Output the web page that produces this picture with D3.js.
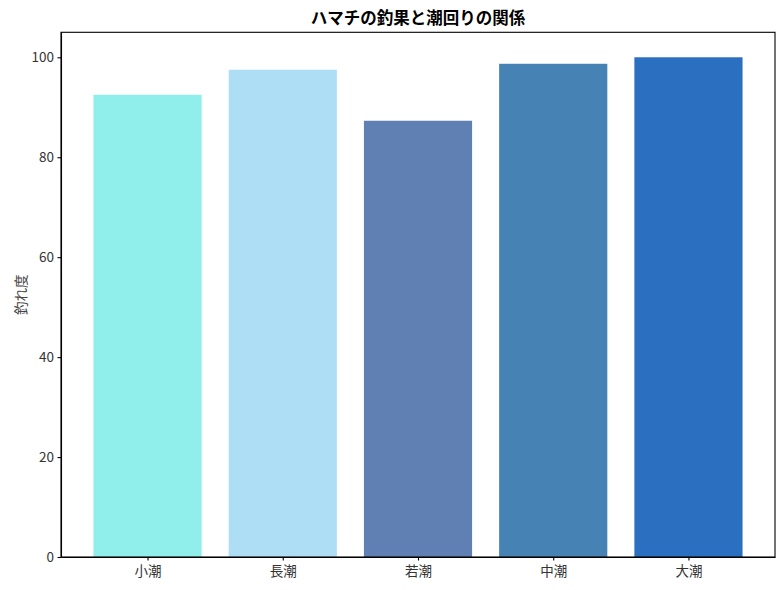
<!DOCTYPE html>
<html lang="ja">
<head>
<meta charset="utf-8">
<title>ハマチの釣果と潮回りの関係</title>
<script src="https://d3js.org/d3.v7.min.js"></script>
<style>
  body { margin: 0; background: #fff; }
  text { font-family: "Noto Sans CJK JP", "Noto Sans", sans-serif; }
  .axis text { font-size: 13.5px; fill: #333; }
  .axis path, .axis line { stroke: #000; stroke-width: 1.1; }
</style>
</head>
<body>
<svg id="chart" width="784" height="590"></svg>
<script>
// data
var tides = ["小潮", "長潮", "若潮", "中潮", "大潮"];
var scores = [92.5, 97.5, 87.3, 98.7, 100];
var barColors = ["#90EEEB", "#AEDEF5", "#607FB3", "#4682B4", "#2B6FC1"];
var yTicks = [0, 20, 40, 60, 80, 100];

var svg = d3.select("#chart");
var margin = {top: 32.3, right: 9, bottom: 33, left: 61};
var w = 784 - margin.left - margin.right;
var h = 590 - margin.top - margin.bottom;

var g = svg.append("g")
  .attr("transform", "translate(" + margin.left + "," + margin.top + ")");

// matplotlib-like band: bar width 0.8, 5% margins
var xScale = d3.scaleLinear()
  .domain([-0.64, tides.length - 1 + 0.64])
  .range([0, w]);

var yScale = d3.scaleLinear()
  .domain([0, 105])
  .range([h, 0]);

g.selectAll("rect.bar")
  .data(scores)
  .enter()
  .append("rect")
  .attr("class", "bar")
  .attr("x", function(d, i) { return xScale(i - 0.4); })
  .attr("width", xScale(0.8) - xScale(0))
  .attr("y", function(d) { return yScale(d); })
  .attr("height", function(d) { return h - yScale(d); })
  .attr("fill", function(d, i) { return barColors[i]; });

var xAxis = d3.axisBottom(xScale)
  .tickValues(d3.range(tides.length))
  .tickFormat(function(i) { return tides[i]; })
  .tickSize(3.5)
  .tickPadding(6)
  .tickSizeOuter(0);

var yAxis = d3.axisLeft(yScale)
  .tickValues(yTicks)
  .tickSize(3.5)
  .tickPadding(3.5)
  .tickSizeOuter(0);

g.append("g")
  .attr("class", "axis")
  .attr("transform", "translate(0," + h + ")")
  .call(xAxis);

g.append("g")
  .attr("class", "axis")
  .call(yAxis);

// frame (top/right spines)
g.append("rect")
  .attr("width", w)
  .attr("height", h)
  .attr("fill", "none")
  .attr("stroke", "#000")
  .attr("stroke-width", 1.1);

// title
svg.append("text")
  .attr("x", margin.left + w / 2)
  .attr("y", 24)
  .attr("text-anchor", "middle")
  .attr("font-size", "16.5px")
  .attr("font-weight", "bold")
  .attr("fill", "#000")
  .text("ハマチの釣果と潮回りの関係");

// y label
svg.append("text")
  .attr("transform", "translate(26," + (margin.top + h / 2) + ") rotate(-90)")
  .attr("text-anchor", "middle")
  .attr("font-size", "13.5px")
  .attr("fill", "#444")
  .text("釣れ度");
</script>
</body>
</html>
